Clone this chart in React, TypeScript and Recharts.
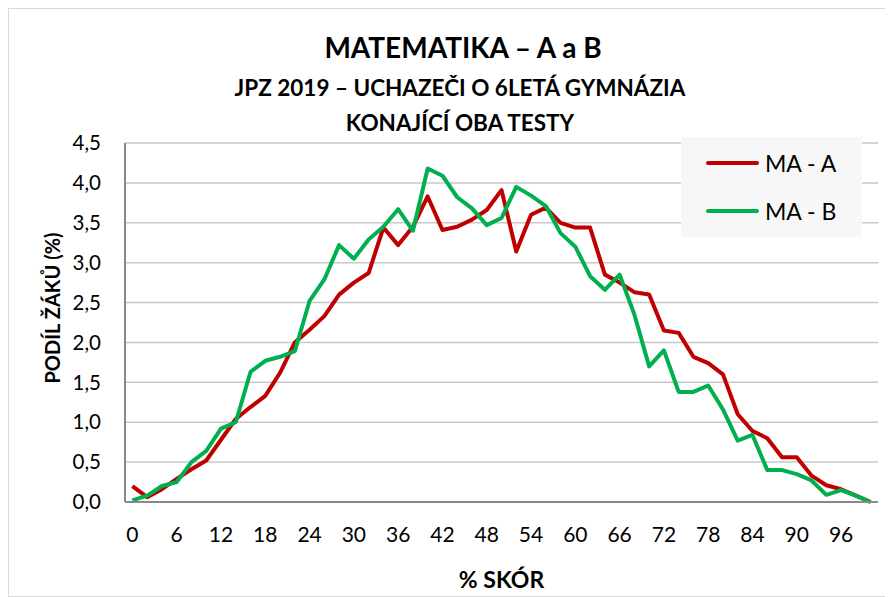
import React from "react";
import { CartesianGrid, Line, LineChart, XAxis, YAxis } from "recharts";

const scoreCategories = [
  0, 2, 4, 6, 8, 10, 12, 14, 16, 18, 20, 22, 24, 26, 28, 30, 32, 34, 36, 38, 40, 42, 44, 46, 48, 50,
  52, 54, 56, 58, 60, 62, 64, 66, 68, 70, 72, 74, 76, 78, 80, 82, 84, 86, 88, 90, 92, 94, 96, 98, 100,
];

const maA = [
  0.2, 0.06, 0.16, 0.29, 0.41, 0.52, 0.78, 1.04, 1.19, 1.33, 1.62, 2.0, 2.16, 2.33, 2.6, 2.75, 2.87,
  3.44, 3.22, 3.45, 3.83, 3.41, 3.45, 3.54, 3.66, 3.91, 3.14, 3.6, 3.69, 3.5, 3.44, 3.44, 2.85, 2.75,
  2.63, 2.6, 2.15, 2.12, 1.82, 1.74, 1.6, 1.1, 0.89, 0.8, 0.56, 0.56, 0.33, 0.21, 0.16, 0.08, 0.0,
];

const maB = [
  0.02, 0.08, 0.2, 0.25, 0.5, 0.64, 0.92, 1.0, 1.63, 1.77, 1.82, 1.89, 2.52, 2.79, 3.22, 3.05, 3.29,
  3.45, 3.67, 3.4, 4.18, 4.09, 3.82, 3.68, 3.47, 3.56, 3.95, 3.84, 3.71, 3.37, 3.2, 2.83, 2.66, 2.85,
  2.35, 1.7, 1.9, 1.38, 1.38, 1.46, 1.16, 0.77, 0.84, 0.4, 0.4, 0.35, 0.27, 0.09, 0.15, 0.08, 0.0,
];

const yTicks = [0, 0.5, 1, 1.5, 2, 2.5, 3, 3.5, 4, 4.5];

const data = scoreCategories.map((s, i) => ({ score: s, a: maA[i], b: maB[i] }));

const font = "Lato, 'Open Sans', sans-serif";
const RED = "#c00000";
const GREEN = "#00b050";

// legend drawn as plain html so it doesn't eat plot space
function LegendBox() {
  const items = [
    { label: "MA - A", color: RED },
    { label: "MA - B", color: GREEN },
  ];
  return (
    <div style={{ position: "absolute", left: 672, top: 128, width: 181, height: 100, background: "#f7f7f7" }}>
      {items.map((it, i) => (
        <div key={it.label} style={{ position: "absolute", left: 25, top: 14 + i * 48, display: "flex", alignItems: "center", height: 24 }}>
          <div style={{ width: 53, height: 4, background: it.color, borderRadius: 2 }} />
          <span style={{ marginLeft: 6, fontSize: 23, color: "#000", lineHeight: "24px", whiteSpace: "nowrap" }}>{it.label}</span>
        </div>
      ))}
    </div>
  );
}

const titleStyle: React.CSSProperties = { position: "absolute", left: 0, textAlign: "center", fontWeight: 700, whiteSpace: "nowrap" };

export default function App() {
  return (
    <div style={{ position: "relative", width: 885, height: 589, fontFamily: font, border: "1px solid #d9d9d9", boxSizing: "border-box" }}>
      <div style={{ ...titleStyle, width: 908, top: 24, fontSize: 28, lineHeight: "28px" }}>MATEMATIKA – A a B</div>
      <div style={{ ...titleStyle, width: 902, top: 67, fontSize: 22.5, lineHeight: "23px" }}>
        JPZ 2019 – UCHAZEČI O 6LETÁ GYMNÁZIA
      </div>
      <div style={{ ...titleStyle, width: 902, top: 102, fontSize: 22.5, lineHeight: "23px" }}>KONAJÍCÍ OBA TESTY</div>
      <div
        style={{
          position: "absolute",
          left: 43,
          top: 299,
          transform: "translate(-50%, -50%) rotate(-90deg)",
          fontSize: 20,
          fontWeight: 700,
          whiteSpace: "nowrap",
        }}
      >
        PODÍL ŽÁKŮ (%)
      </div>
      <div style={{ ...titleStyle, width: 985, top: 559, fontSize: 23, lineHeight: "23px" }}>% SKÓR</div>
      <LineChart
        width={883}
        height={587}
        data={data}
        margin={{ top: 134, left: 56, right: 14, bottom: 34 }}
        style={{ position: "absolute", left: 0, top: 0 }}
      >
        <CartesianGrid vertical={false} stroke="#c8c8c8" strokeWidth={1.5} />
        <XAxis
          dataKey="score"
          interval={2}
          padding={{ left: 7.4, right: 7.4 }}
          height={60}
          tickLine={false}
          axisLine={{ stroke: "#898989", strokeWidth: 2 }}
          tick={{ fontSize: 21, fill: "#000", fontFamily: font }}
          tickMargin={19}
        />
        <YAxis
          domain={[0, 4.5]}
          ticks={yTicks}
          width={60}
          tickLine={false}
          axisLine={{ stroke: "#898989", strokeWidth: 2 }}
          tick={{ fontSize: 20.5, fill: "#000", fontFamily: font }}
          tickMargin={18}
          tickFormatter={(v: number) => v.toFixed(1).replace(".", ",")}
        />
        <YAxis yAxisId="right" orientation="right" width={0} tick={false} tickLine={false} axisLine={{ stroke: "#c8c8c8", strokeWidth: 1.5 }} />
        <Line dataKey="a" name="MA - A" stroke={RED} strokeWidth={4} dot={false} isAnimationActive={false} strokeLinejoin="round" />
        <Line dataKey="b" name="MA - B" stroke={GREEN} strokeWidth={4} dot={false} isAnimationActive={false} strokeLinejoin="round" />
      </LineChart>
      <LegendBox />
    </div>
  );
}
